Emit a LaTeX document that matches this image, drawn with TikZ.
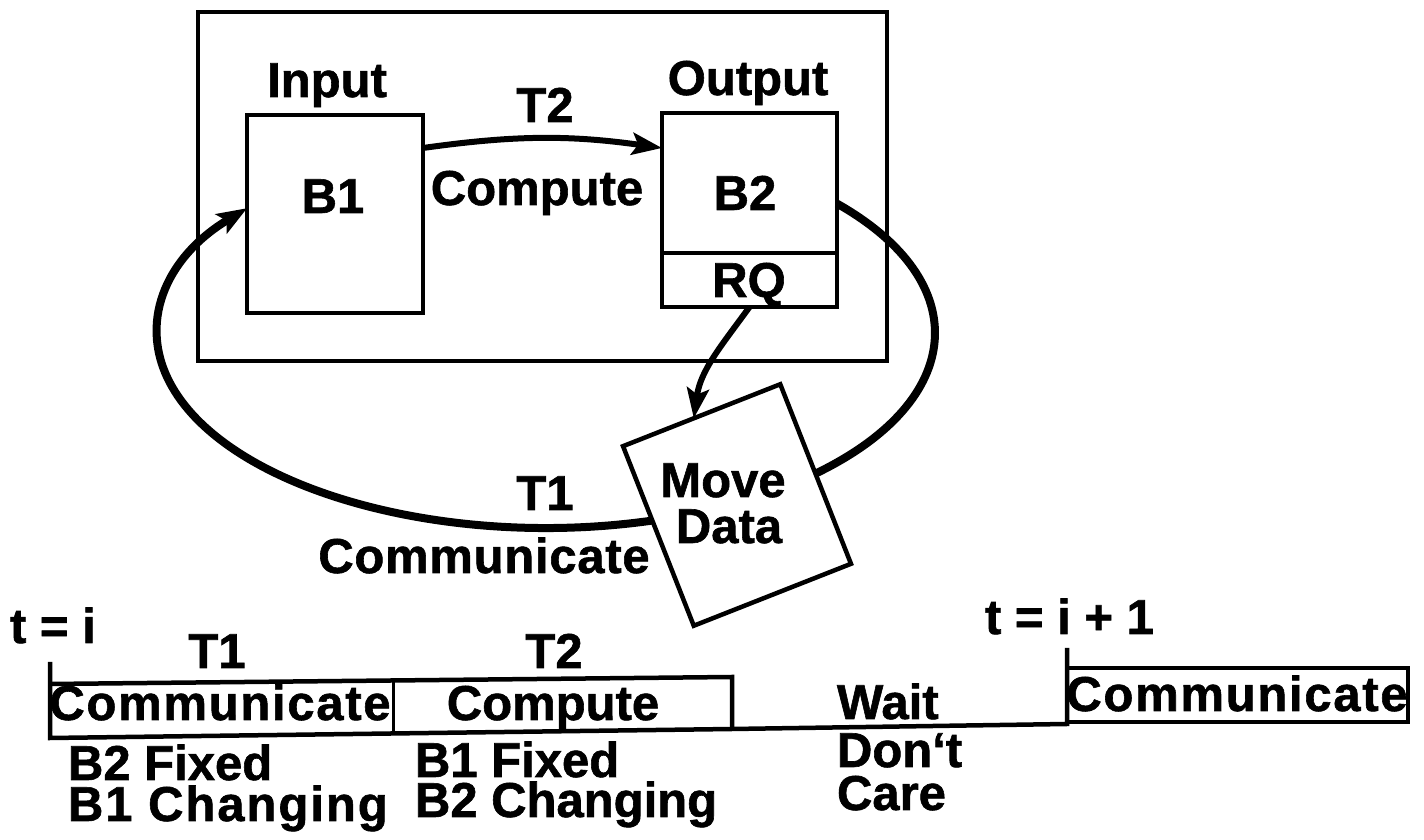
\documentclass[tikz,border=0pt]{standalone}
\usepackage{fontspec}
\setmainfont{Liberation Sans}[BoldFeatures={FakeBold=1.2}]
\usetikzlibrary{arrows.meta,calc}
\begin{document}
\begin{tikzpicture}[x=1pt,y=1pt,
  every node/.style={font=\bfseries\fontsize{49}{52}\selectfont, inner sep=0pt, outer sep=0pt},
  box/.style={draw, line width=4.5pt},
  loopline/.style={line width=8pt},
  tip/.style={-{Stealth[length=30pt,width=22pt,inset=6pt]}},
  arr/.style={line width=6pt, tip},
  tl/.style={line width=4.5pt, line join=miter},
  thin/.style={line width=3pt},
  spaced/.style={font=\bfseries\fontsize{49}{52}\selectfont\addfontfeature{LetterSpace=#1}},
]
\useasboundingbox (0,0) rectangle (1424,840);
% frame and buffers
\node[box, minimum width=689, minimum height=349] (frame) at (542.5,653.5) {};
\node[box, minimum width=176, minimum height=198] (b1) at (335,626) {};
\node[box, minimum width=175, minimum height=140] (b2) at (749.5,657) {};
\node[box, minimum width=175, minimum height=54] (rq) at (749.5,560) {};
\node[box, minimum width=169, minimum height=193, rotate=21.5] (md) at (737,335) {};
% labels
\node[anchor=base] (inp) at (327,743) {Input};
\node[anchor=base] (outp) at (748,745) {Output};
\node[anchor=base] (t2a) at (545,718) {T2};
\node[anchor=base] (b1t) at (333,627) {B1};
\node[anchor=base] (cmpa) at (537,635) {Compute};
\node[anchor=base] (b2t) at (745,630) {B2};
\node[anchor=base] (rqt) at (749,543) {RQ};
\node[anchor=base] (t1a) at (545,330) {T1};
\node[anchor=base, spaced=1.5] (comma) at (484,267) {Communicate};
\node[anchor=base] (mv1) at (723,343) {Move};
\node[anchor=base] (mv2) at (729,297) {Data};
% connectors
\draw[arr] ($(b1.north east)+(0,-33)$) to[bend left=8] ($(b2.north west)+(0,-35)$);
\draw[arr] (rq.south) to[out=234,in=82] ($(md.north west)!0.45!(md.north east)$);
\coordinate (ec) at (546,507);
\draw[loopline] (ec) ++(41.6:389 and 195) arc[start angle=41.6, end angle=-46, x radius=389, y radius=195];
\draw[loopline, tip] (ec) ++(-74:389 and 195) arc[start angle=-74, end angle=-219.8, x radius=389, y radius=195];
% timeline
\draw[tl] (50,178) -- (50,102) -- (732,111) -- (1067,116) -- (1067,192);
\draw[tl] (50,156) -- (732,163) -- (732,111);
\draw[thin] (393,158) -- (393,107);
\draw[tl] (1067,172) -- (1408,172) -- (1408,118) -- (1067,118);
\node[anchor=base west] (ti) at (10,197) {t = i};
\node[anchor=base] (t1b) at (217,172) {T1};
\node[anchor=base] (t2b) at (554,172) {T2};
\node[anchor=base, spaced=3.5] (commb) at (220,120) {Communicate};
\node[anchor=base] (cmpb) at (553,120) {Compute};
\node[anchor=base west] (f1) at (68,60) {B2 Fixed};
\node[anchor=base west, spaced=4] (c1) at (68,19) {B1 Changing};
\node[anchor=base west] (f2) at (415,63) {B1 Fixed};
\node[anchor=base west] (c2) at (415,23) {B2 Changing};
\node[anchor=base west] (wt) at (837,121) {Wait};
\node[anchor=base west] (dt) at (837,73) {Don‘t};
\node[anchor=base west] (ca) at (837,30) {Care};
\node[anchor=base west] (ti1) at (985,206) {t = i + 1};
\node[anchor=base, spaced=3.5] (commc) at (1237,129) {Communicate};
\end{tikzpicture}
\end{document}
